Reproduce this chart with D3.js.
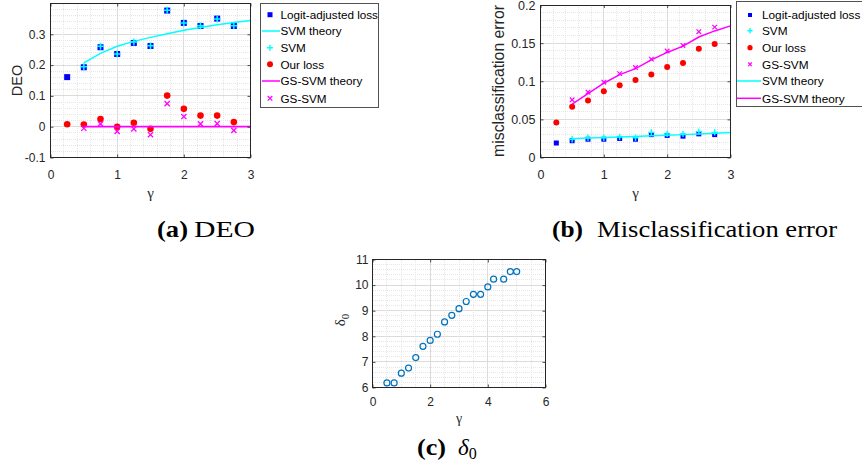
<!DOCTYPE html>
<html>
<head>
<meta charset="utf-8">
<script src="https://cdn.jsdelivr.net/npm/d3@7"></script>
<style>
  html, body { margin: 0; padding: 0; background: #fff; }
  svg { display: block; }
</style>
</head>
<body>
<svg id="fig" width="862" height="465"></svg>
<script>
// ---- experiment grid (gamma) ----
const gammaAll    = [0.25, 0.5, 0.75, 1, 1.25, 1.5, 1.75, 2, 2.25, 2.5, 2.75];
const gammaSvm    = [0.5, 0.75, 1, 1.25, 1.5, 1.75, 2, 2.25, 2.5, 2.75];
const gammaTheory = [0.5, 0.75, 1, 1.25, 1.5, 1.75, 2, 2.25, 2.5, 2.75, 3];

// ---- (a) DEO ----
const deoLogit     = [0.161, 0.193, 0.258, 0.236, 0.272, 0.262, 0.377, 0.337, 0.327, 0.351, 0.327];
const deoSvm       = [0.195, 0.261, 0.236, 0.275, 0.263, 0.378, 0.337, 0.328, 0.350, 0.328];
const deoOurs      = [0.008, 0.007, 0.025, 0.000, 0.013, -0.007, 0.101, 0.058, 0.036, 0.036, 0.015];
const deoGsSvm     = [-0.005, 0.009, -0.015, -0.007, -0.026, 0.075, 0.033, 0.009, 0.010, -0.012];
const deoSvmTheory = [0.207, 0.238, 0.261, 0.277, 0.290, 0.302, 0.313, 0.322, 0.331, 0.338, 0.345];
const deoGsTheory  = [0, 0, 0, 0, 0, 0, 0, 0, 0, 0, 0];

// ---- (b) misclassification error ----
const errLogit     = [0.019, 0.022, 0.024, 0.024, 0.025, 0.024, 0.030, 0.029, 0.028, 0.031, 0.030];
const errSvm       = [0.024, 0.026, 0.026, 0.027, 0.026, 0.033, 0.031, 0.031, 0.034, 0.033];
const errOurs      = [0.046, 0.0665, 0.0748, 0.087, 0.0948, 0.1017, 0.1087, 0.1187, 0.124, 0.1426, 0.1487];
const errGsSvm     = [0.0757, 0.0857, 0.0987, 0.110, 0.118, 0.129, 0.1396, 0.147, 0.165, 0.171];
const errSvmTheory = [0.0245, 0.0255, 0.0263, 0.0270, 0.0277, 0.0285, 0.0293, 0.0300, 0.0308, 0.0318, 0.0328];
const errGsTheory  = [0.070, 0.0839, 0.0974, 0.1087, 0.1165, 0.128, 0.1378, 0.146, 0.158, 0.166, 0.1726];

// ---- (c) delta_0 ----
const deltaGamma = [0.5, 0.75, 1, 1.25, 1.5, 1.75, 2, 2.25, 2.5, 2.75, 3, 3.25, 3.5, 3.75, 4, 4.2, 4.55, 4.78, 5];
const deltaZero  = [6.18, 6.18, 6.56, 6.76, 7.17, 7.61, 7.84, 8.08, 8.56, 8.82, 9.08, 9.36, 9.64, 9.64, 9.93, 10.23, 10.23, 10.53, 10.53];

// ---- tick labels ----
const ticksGamma3   = [0, 1, 2, 3];
const labelsGamma3  = ["0", "1", "2", "3"];
const ticksDeo      = [-0.1, 0, 0.1, 0.2, 0.3];
const labelsDeo     = ["-0.1", "0", "0.1", "0.2", "0.3"];
const ticksErr      = [0, 0.05, 0.1, 0.15, 0.2];
const labelsErr     = ["0", "0.05", "0.1", "0.15", "0.2"];
const ticksGamma6   = [0, 2, 4, 6];
const labelsGamma6  = ["0", "2", "4", "6"];
const ticksDelta    = [6, 7, 8, 9, 10, 11];
const labelsDelta   = ["6", "7", "8", "9", "10", "11"];

// ---- colours and fonts ----
const BLUE = "#0000ff", CYAN = "#00ffff", RED = "#ff0000", MAGENTA = "#ff00ff", MBLUE = "#0072bd";
const AXIS = "#262626";
const SANS = '"Liberation Sans", Arial, Helvetica, sans-serif';
const SERIF = '"Liberation Serif", "DejaVu Serif", serif';

const svg = d3.select("#fig").style("font-family", SANS);

function zip(xs, ys) { return xs.map((x, i) => [x, ys[i]]); }

// Axes frame with major/minor grid, box and inward ticks
function makeAxes(o) {
  const g = svg.append("g");
  const x = d3.scaleLinear().domain(o.xDomain).range([o.left, o.right]);
  const y = d3.scaleLinear().domain(o.yDomain).range([o.bottom, o.top]);

  const near = (v, arr) => arr.some(t => Math.abs(t - v) < 1e-9);
  const xMinor = d3.range(o.xDomain[0], o.xDomain[1] + 1e-9, o.xMinorStep).filter(v => !near(v, o.xTicks));
  const yMinor = d3.range(o.yDomain[0], o.yDomain[1] + 1e-9, o.yMinorStep).filter(v => !near(v, o.yTicks));

  const grid = g.append("g").attr("shape-rendering", "crispEdges");
  grid.selectAll(".vx").data(xMinor).join("line")
    .attr("x1", d => x(d)).attr("x2", d => x(d)).attr("y1", o.top).attr("y2", o.bottom)
    .attr("stroke", "#e6e6e6").attr("stroke-width", 1).attr("stroke-dasharray", "1,1");
  grid.selectAll(".hy").data(yMinor).join("line")
    .attr("x1", o.left).attr("x2", o.right).attr("y1", d => y(d)).attr("y2", d => y(d))
    .attr("stroke", "#e6e6e6").attr("stroke-width", 1).attr("stroke-dasharray", "1,1");
  grid.selectAll(".mx").data(o.xTicks).join("line")
    .attr("x1", d => x(d)).attr("x2", d => x(d)).attr("y1", o.top).attr("y2", o.bottom)
    .attr("stroke", "#dcdcdc").attr("stroke-width", 1);
  grid.selectAll(".my").data(o.yTicks).join("line")
    .attr("x1", o.left).attr("x2", o.right).attr("y1", d => y(d)).attr("y2", d => y(d))
    .attr("stroke", "#dcdcdc").attr("stroke-width", 1);

  const plot = g.append("g");

  const fs = o.fontSize;
  const ax = g.append("g");
  const xb = ax.append("g").attr("transform", `translate(0,${o.bottom})`)
    .call(d3.axisBottom(x).tickValues(o.xTicks).tickFormat((d, i) => o.xLabels[i])
      .tickSize(-3).tickPadding(o.xPad));
  const yl = ax.append("g").attr("transform", `translate(${o.left},0)`)
    .call(d3.axisLeft(y).tickValues(o.yTicks).tickFormat((d, i) => o.yLabels[i])
      .tickSize(-3).tickPadding(o.yPad));
  const xt = ax.append("g").attr("transform", `translate(0,${o.top})`)
    .call(d3.axisTop(x).tickValues(o.xTicks).tickFormat("").tickSize(-3));
  const yr = ax.append("g").attr("transform", `translate(${o.right},0)`)
    .call(d3.axisRight(y).tickValues(o.yTicks).tickFormat("").tickSize(-3));
  [xb, yl, xt, yr].forEach(s => {
    s.select(".domain").remove();
    s.selectAll("line").attr("stroke", AXIS).attr("stroke-width", 0.8);
    s.selectAll("text").style("font-size", fs + "px").style("font-family", SANS).attr("fill", AXIS);
  });
  ax.append("rect").attr("x", o.left).attr("y", o.top)
    .attr("width", o.right - o.left).attr("height", o.bottom - o.top)
    .attr("fill", "none").attr("stroke", AXIS).attr("stroke-width", 1)
    .attr("shape-rendering", "crispEdges");

  return { g, plot, x, y };
}

// ---- marker primitives ----
function squares(g, pts, sx, sy, size, color) {
  g.append("g").selectAll("rect").data(pts).join("rect")
    .attr("x", d => sx(d[0]) - size / 2).attr("y", d => sy(d[1]) - size / 2)
    .attr("width", size).attr("height", size).attr("fill", color);
}
function pluses(g, pts, sx, sy, half, color, sw) {
  g.append("g").selectAll("path").data(pts).join("path")
    .attr("d", d => { const cx = sx(d[0]), cy = sy(d[1]);
      return `M${cx - half},${cy}H${cx + half}M${cx},${cy - half}V${cy + half}`; })
    .attr("stroke", color).attr("stroke-width", sw).attr("fill", "none");
}
function crosses(g, pts, sx, sy, half, color, sw) {
  g.append("g").selectAll("path").data(pts).join("path")
    .attr("d", d => { const cx = sx(d[0]), cy = sy(d[1]);
      return `M${cx - half},${cy - half}L${cx + half},${cy + half}M${cx - half},${cy + half}L${cx + half},${cy - half}`; })
    .attr("stroke", color).attr("stroke-width", sw).attr("fill", "none");
}
function dots(g, pts, sx, sy, r, color) {
  g.append("g").selectAll("circle").data(pts).join("circle")
    .attr("cx", d => sx(d[0])).attr("cy", d => sy(d[1])).attr("r", r).attr("fill", color);
}
function rings(g, pts, sx, sy, r, color, sw) {
  g.append("g").selectAll("circle").data(pts).join("circle")
    .attr("cx", d => sx(d[0])).attr("cy", d => sy(d[1])).attr("r", r)
    .attr("fill", "none").attr("stroke", color).attr("stroke-width", sw);
}
function curve(g, pts, sx, sy, color, sw) {
  g.append("path").datum(pts)
    .attr("d", d3.line().x(d => sx(d[0])).y(d => sy(d[1])))
    .attr("fill", "none").attr("stroke", color).attr("stroke-width", sw);
}

// ---- legend ----
function legend(o) {
  const g = svg.append("g");
  g.append("rect").attr("x", o.x0).attr("y", o.y0).attr("width", o.x1 - o.x0).attr("height", o.y1 - o.y0)
    .attr("fill", "#fff").attr("stroke", AXIS).attr("stroke-width", 0.8).attr("shape-rendering", "crispEdges");
  o.items.forEach((it, i) => {
    const cy = o.rows[i];
    const mx = o.markerX;
    if (it.type === "square") g.append("rect").attr("x", mx - o.sq / 2).attr("y", cy - o.sq / 2)
      .attr("width", o.sq).attr("height", o.sq).attr("fill", it.color);
    if (it.type === "plus") g.append("path")
      .attr("d", `M${mx - o.ph},${cy}H${mx + o.ph}M${mx},${cy - o.ph}V${cy + o.ph}`)
      .attr("stroke", it.color).attr("stroke-width", 1.4);
    if (it.type === "dot") g.append("circle").attr("cx", mx).attr("cy", cy).attr("r", o.dr).attr("fill", it.color);
    if (it.type === "cross") g.append("path")
      .attr("d", `M${mx - o.ch},${cy - o.ch}L${mx + o.ch},${cy + o.ch}M${mx - o.ch},${cy + o.ch}L${mx + o.ch},${cy - o.ch}`)
      .attr("stroke", it.color).attr("stroke-width", 1.2);
    if (it.type === "line") g.append("line").attr("x1", o.lineX0).attr("x2", o.lineX1)
      .attr("y1", cy).attr("y2", cy).attr("stroke", it.color).attr("stroke-width", 1.5);
    g.append("text").attr("x", o.textX).attr("y", cy).attr("dy", "0.36em")
      .style("font-size", o.fontSize + "px").attr("fill", "#000").text(it.label);
  });
}

// ===================== (a) DEO =====================
const A = makeAxes({
  left: 50.5, right: 250.5, top: 3.5, bottom: 157.5,
  xDomain: [0, 3], yDomain: [-0.1, 0.4],
  xTicks: ticksGamma3, xLabels: labelsGamma3, yTicks: ticksDeo, yLabels: labelsDeo,
  xMinorStep: 0.2, yMinorStep: 0.02, fontSize: 12, xPad: 12.5, yPad: 5
});
squares(A.plot, zip(gammaAll, deoLogit), A.x, A.y, 6, BLUE);
curve(A.plot, zip(gammaTheory, deoSvmTheory), A.x, A.y, CYAN, 1.5);
pluses(A.plot, zip(gammaSvm, deoSvm), A.x, A.y, 3.5, CYAN, 1.5);
dots(A.plot, zip(gammaAll, deoOurs), A.x, A.y, 3.3, RED);
curve(A.plot, zip(gammaTheory, deoGsTheory), A.x, A.y, MAGENTA, 1.8);
crosses(A.plot, zip(gammaSvm, deoGsSvm), A.x, A.y, 2.6, MAGENTA, 1.3);

svg.append("text").attr("transform", "translate(21.5,80.5) rotate(-90)")
  .attr("text-anchor", "middle").style("font-size", "14.5px").attr("fill", AXIS).text("DEO");
svg.append("text").attr("x", 150.5).attr("y", 198).attr("text-anchor", "middle")
  .style("font-family", SERIF).style("font-size", "15px").attr("fill", AXIS).text("γ");

legend({
  x0: 260.5, x1: 378.5, y0: 3.5, y1: 107.5,
  rows: [14.7, 31, 47.7, 64.3, 81, 98.3],
  markerX: 270, textX: 280.5, lineX0: 262, lineX1: 280, fontSize: 11.7,
  sq: 5, ph: 3, dr: 3, ch: 2.3,
  items: [
    { type: "square", color: BLUE, label: "Logit-adjusted loss" },
    { type: "line", color: CYAN, label: "SVM theory" },
    { type: "plus", color: CYAN, label: "SVM" },
    { type: "dot", color: RED, label: "Our loss" },
    { type: "line", color: MAGENTA, label: "GS-SVM theory" },
    { type: "cross", color: MAGENTA, label: "GS-SVM" }
  ]
});

// ===================== (b) misclassification error =====================
const B = makeAxes({
  left: 540.5, right: 730.5, top: 5, bottom: 157.5,
  xDomain: [0, 3], yDomain: [0, 0.2],
  xTicks: ticksGamma3, xLabels: labelsGamma3, yTicks: ticksErr, yLabels: labelsErr,
  xMinorStep: 0.2, yMinorStep: 0.01, fontSize: 12.5, xPad: 12.5, yPad: 5
});
squares(B.plot, zip(gammaAll, errLogit), B.x, B.y, 5, BLUE);
pluses(B.plot, zip(gammaSvm, errSvm), B.x, B.y, 3.2, CYAN, 1.4);
dots(B.plot, zip(gammaAll, errOurs), B.x, B.y, 3, RED);
crosses(B.plot, zip(gammaSvm, errGsSvm), B.x, B.y, 2.3, MAGENTA, 1.2);
curve(B.plot, zip(gammaTheory, errSvmTheory), B.x, B.y, CYAN, 1.5);
curve(B.plot, zip(gammaTheory, errGsTheory), B.x, B.y, MAGENTA, 1.5);

svg.append("text").attr("transform", "translate(504,81) rotate(-90)")
  .attr("text-anchor", "middle").style("font-size", "15.8px").attr("fill", AXIS).text("misclassification error");
svg.append("text").attr("x", 635.5).attr("y", 198).attr("text-anchor", "middle")
  .style("font-family", SERIF).style("font-size", "15px").attr("fill", AXIS).text("γ");

legend({
  x0: 736.5, x1: 866, y0: 1.5, y1: 106.5,
  rows: [15, 30.7, 47.7, 64.3, 81, 98.3],
  markerX: 750, textX: 762, lineX0: 737, lineX1: 761, fontSize: 11.8,
  sq: 4, ph: 2.6, dr: 2.6, ch: 1.8,
  items: [
    { type: "square", color: BLUE, label: "Logit-adjusted loss" },
    { type: "plus", color: CYAN, label: "SVM" },
    { type: "dot", color: RED, label: "Our loss" },
    { type: "cross", color: MAGENTA, label: "GS-SVM" },
    { type: "line", color: CYAN, label: "SVM theory" },
    { type: "line", color: MAGENTA, label: "GS-SVM theory" }
  ]
});

// ===================== (c) delta_0 =====================
const C = makeAxes({
  left: 372.5, right: 545.5, top: 259.5, bottom: 387.5,
  xDomain: [0, 6], yDomain: [6, 11],
  xTicks: ticksGamma6, xLabels: labelsGamma6, yTicks: ticksDelta, yLabels: labelsDelta,
  xMinorStep: 0.5, yMinorStep: 0.2, fontSize: 12, xPad: 9.5, yPad: 4
});
rings(C.plot, zip(deltaGamma, deltaZero), C.x, C.y, 3, MBLUE, 1.2);

const dl = svg.append("text").attr("transform", "translate(345,320) rotate(-90)")
  .attr("text-anchor", "middle").style("font-family", SERIF).style("font-size", "15px").attr("fill", AXIS);
dl.append("tspan").text("δ");
dl.append("tspan").style("font-size", "11px").attr("dy", "4").text("0");
svg.append("text").attr("x", 459).attr("y", 423).attr("text-anchor", "middle")
  .style("font-family", SERIF).style("font-size", "14px").attr("fill", AXIS).text("γ");

// ===================== captions =====================
function caption(tag, tagX, tagW, body, bodyX, bodyW, baseY, italic) {
  svg.append("text").attr("x", tagX).attr("y", baseY)
    .style("font-family", SERIF).style("font-weight", "bold").style("font-size", "23px").attr("fill", "#000")
    .attr("textLength", tagW).attr("lengthAdjust", "spacingAndGlyphs").text(tag);
  const t = svg.append("text").attr("x", bodyX).attr("y", baseY)
    .style("font-family", SERIF).style("font-size", "23px").attr("fill", "#000");
  if (italic) {
    t.append("tspan").style("font-style", "italic").text(body);
    t.append("tspan").style("font-size", "16px").attr("dy", "4").text("0");
  } else {
    t.attr("textLength", bodyW).attr("lengthAdjust", "spacingAndGlyphs").text(body);
  }
}
caption("(a)", 157, 31, "DEO", 194, 61, 236.5, false);
caption("(b)", 552, 31, "Misclassification error", 597, 240, 236.5, false);
caption("(c)", 417, 29, "δ", 458, 0, 455, true);
</script>
</body>
</html>
